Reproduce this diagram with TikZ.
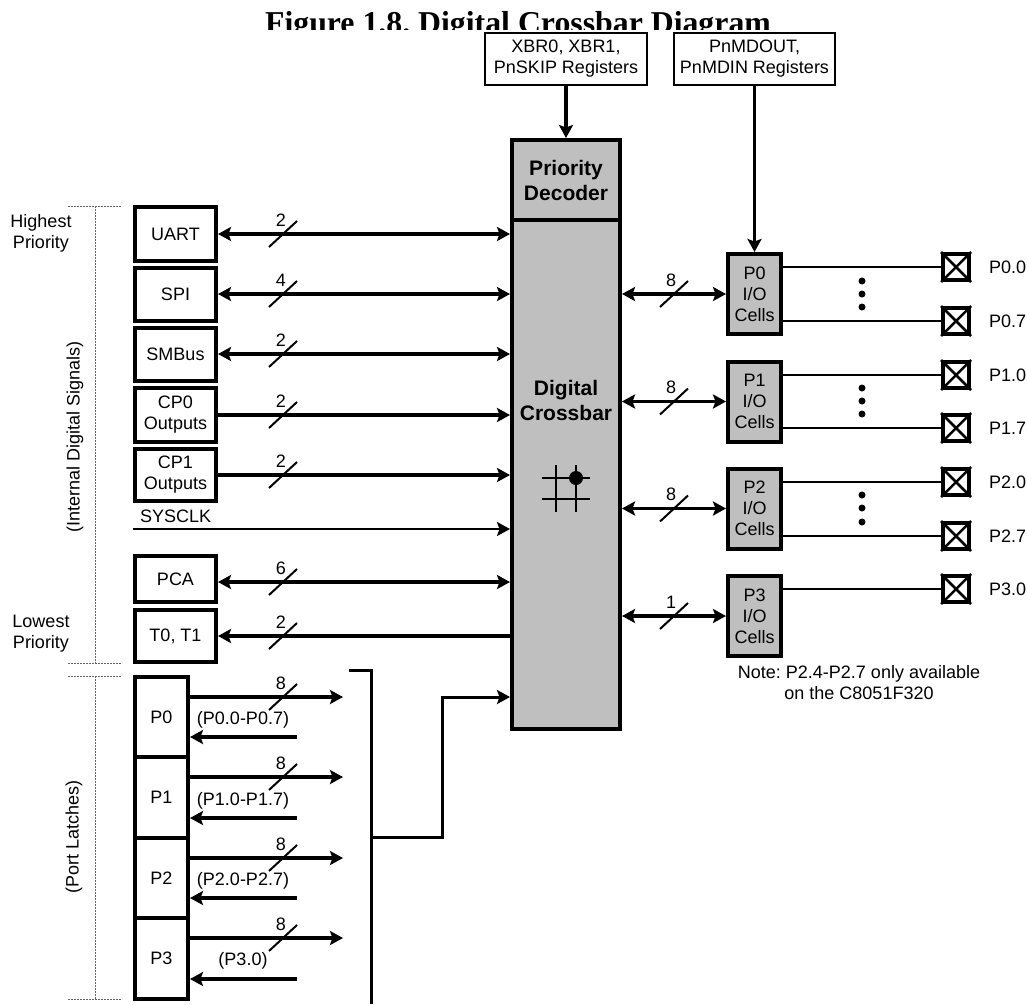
\documentclass[tikz,border=0pt]{standalone}
\usepackage{fontspec}
\setmainfont{Liberation Sans}
\newfontfamily\titlefont{Liberation Serif}
\usetikzlibrary{arrows.meta}
\frenchspacing
\tikzset{
  lbl/.style={font=\fontsize{18}{21}\selectfont, align=center, inner sep=0},
  boldlbl/.style={font=\fontsize{21}{25}\selectfont\bfseries, align=center, inner sep=0},
  sigbox/.style={lbl, draw, line width=4, minimum width=81},
  regbox/.style={lbl, draw, line width=2, fill=white, minimum height=52},
  cellbox/.style={lbl, draw, line width=4, fill=black!25!white, minimum width=53, minimum height=80},
  latchbox/.style={lbl, draw, line width=4, minimum width=53},
  padbox/.style={draw, line width=4, minimum size=26, inner sep=0},
  headtip/.style={>={Stealth[length=13pt,width=14pt,inset=2.5pt]}},
  bus/.style={headtip, line width=3.5},
  slash/.style={line width=2},
  wire/.style={line width=2},
  bracket/.style={line width=1, color=black!60!white, dash pattern=on 2pt off 1pt}
}
\begin{document}
\begin{tikzpicture}[x=1pt,y=-1pt]
\useasboundingbox (0,0) rectangle (1027,1004);

\begin{scope}
\clip (0,0) rectangle (1027,29);
\node[anchor=base, inner sep=0, font=\fontsize{31.8}{36}\titlefont\bfseries] (title) at (518,33.5) {Figure 1.8. Digital Crossbar Diagram};
\end{scope}

\node[draw, line width=4, fill=black!25!white, minimum width=108, minimum height=589] (crossbar) at (566,434.5) {};
\draw[line width=3.5] (crossbar.west |- 566,220) -- (crossbar.east |- 566,220);
\node[boldlbl] (decoder) at (566,180) {Priority\\Decoder};
\node[boldlbl] (xbarname) at (566,400.5) {Digital\\Crossbar};

\draw[line width=1.5] (542,478)--(590,478);
\draw[line width=1.5] (542,499)--(590,499);
\draw[line width=1.5] (556,465)--(556,512);
\draw[line width=1.5] (576,465)--(576,512);
\fill (576,478) circle (7);

\node[regbox, minimum width=162] (xbrregs) at (566,59) {XBR0, XBR1,\\PnSKIP Registers};
\node[regbox, minimum width=161] (mdregs) at (754.5,59) {PnMDOUT,\\PnMDIN Registers};

% signal sources on the left
\foreach \name/\txt/\cy/\hh/\ay/\n/\tip in {
  uart/UART/234/54/234/2/{<->},
  spi/SPI/294.5/53/294/4/{<->},
  smbus/SMBus/354.5/53/354/2/{<->},
  cpzero/CP0\\Outputs/415/54/415/2/{->},
  cpone/CP1\\Outputs/475/52/475/2/{->},
  pca/PCA/579/46/582/6/{<->},
  timers/{T0, T1}/636/52/636/2/{<-}} {
\node[sigbox, minimum height=\hh] (\name) at (175.5,\cy) {\txt};
\coordinate (\name out) at (218,\ay);
\draw[bus,\tip] (\name out) -- (\name out -| crossbar.west);
\draw[slash] (269,\ay+13)--(297,\ay-13);
\node[lbl] (\name n) at (281,\ay-14) {\n};
}

\node[lbl, anchor=west] (sysclk) at (140,516) {SYSCLK};
\coordinate (sysclkin) at (133,529);
\draw[wire,headtip,->] (sysclkin) -- (sysclkin -| crossbar.west);

% port latches
\foreach \p/\cy/\hh/\up/\down/\txt/\ty in {
  0/717/80/697/737/(P0.0-P0.7)/720,
  1/797.5/81/777/818/(P1.0-P1.7)/801,
  2/878/80/858/898/(P2.0-P2.7)/881,
  3/958.5/81/938/979/(P3.0)/961} {
\node[latchbox, minimum height=\hh] (latch\p) at (161.5,\cy) {P\p};
\coordinate (rx\p) at (343,\up);
\coordinate (lx\p) at (297,\down);
\draw[bus,->] (rx\p -| latch\p.east) -- (rx\p);
\draw[bus,->] (lx\p) -- (lx\p -| latch\p.east);
\draw[slash] (269,\up+13)--(297,\up-13);
\node[lbl] (latchn\p) at (281,\up-14) {8};
\node[lbl] (latcht\p) at (243,\ty) {\txt};
}

\coordinate (brtop) at (349,670);
\coordinate (brbot) at (371,1004);
\coordinate (brstem) at (371,837);
\coordinate (brin) at (442,697);
\draw[line width=3] (brtop) -- (brtop -| brbot) -- (brbot);
\draw[line width=3,headtip,->] (brstem) -| (brin) -- (brin -| crossbar.west);

% I/O cells
\foreach \p/\cy/\n in {0/294/8,1/401.5/8,2/508.5/8,3/616/1} {
\node[cellbox] (cell\p) at (754.5,\cy) {P\p\\I/O\\Cells};
\draw[bus,<->] (cell\p.west -| crossbar.east) -- (cell\p.west);
\draw[slash] (660,\cy+13)--(688,\cy-13);
\node[lbl] (celln\p) at (671,\cy-14) {\n};
}
\draw[bus,->] (mdregs.south) -- (cell0.north);
\draw[bus,->] (xbrregs.south) -- (crossbar.north);

% pads
\foreach \name/\c/\y/\txt in {
  a/0/267/P0.0, b/0/321/P0.7,
  c/1/375/P1.0, d/1/428/P1.7,
  e/2/482/P2.0, f/2/536/P2.7,
  g/3/589/P3.0} {
\node[padbox] (pad\name) at (956,\y) {};
\draw[line width=2.5] (pad\name.north west) -- (pad\name.south east);
\draw[line width=2.5] (pad\name.north east) -- (pad\name.south west);
\draw[wire] (cell\c.east |- pad\name.west) -- (pad\name.west);
\node[lbl, anchor=west] (padt\name) at (989,\y) {\txt};
}
\foreach \y in {281,294,307,388,401,414,495,508,522} {
\fill (862,\y) circle (3.5);
}

\node[lbl] (note) at (859,683) {Note: P2.4-P2.7 only available\\on the C8051F320};

% priority brackets
\foreach \top/\bot in {206/663,676/999} {
\draw[bracket] (68,\top)--(122,\top);
\draw[bracket] (68,\bot)--(122,\bot);
\draw[bracket] (95,\top)--(95,\bot);
}
\node[lbl] (highest) at (41,233) {Highest\\Priority};
\node[lbl] (lowest) at (41,634) {Lowest\\Priority};
\node[lbl, rotate=90] (internal) at (75,437) {(Internal Digital Signals)};
\node[lbl, rotate=90] (latches) at (74,837) {(Port Latches)};

\end{tikzpicture}
\end{document}
